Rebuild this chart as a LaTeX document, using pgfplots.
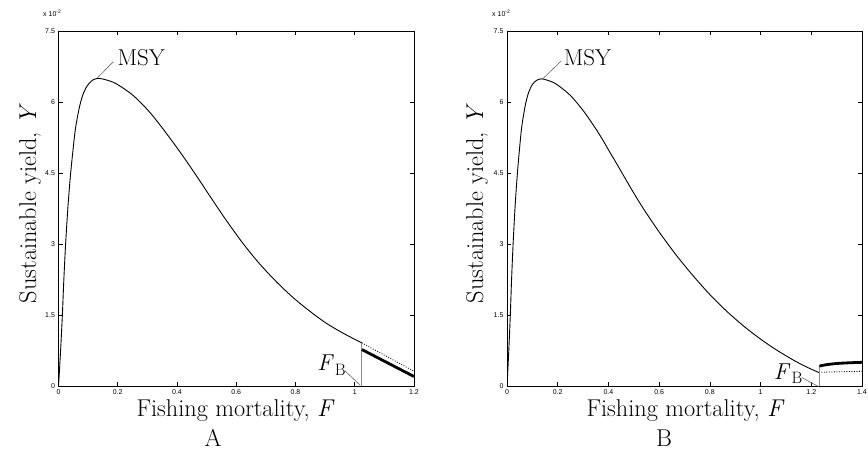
\documentclass[border=0pt]{standalone}
\usepackage{fontspec}
\usepackage{pgfplots}
\pgfplotsset{compat=1.18}
\newfontfamily\tickfont{Liberation Sans}
\newcommand{\bigf}{\fontsize{24.3}{29}\selectfont}
\newcommand{\annf}{\fontsize{23}{27}\selectfont}
\newcommand{\FB}{\textit{F}\kern0.05em\raisebox{-0.2em}{\fontsize{16.5}{18}\selectfont B}}

\pgfplotstableread{
F Y
0 0
0.007 0.75
0.013 1.5
0.018 2.25
0.024 3.0
0.032 3.8
0.041 4.5
0.0535 5.25
0.060 5.55
0.072 5.93
0.085 6.20
0.100 6.37
0.117 6.47
0.136 6.50
0.160 6.47
0.194 6.39
0.250 6.15
0.306 5.80
0.363 5.35
0.419 4.87
0.464 4.46
0.515 3.98
0.568 3.49
0.625 3.00
0.680 2.58
0.737 2.20
0.793 1.87
0.850 1.58
0.905 1.33
0.965 1.11
1.024 0.92
}\curveA

\pgfplotstableread{
F Y
0 0
0.007 0.75
0.013 1.5
0.018 2.25
0.024 3.0
0.032 3.8
0.041 4.5
0.0535 5.25
0.060 5.55
0.072 5.93
0.085 6.20
0.100 6.37
0.117 6.46
0.136 6.49
0.160 6.46
0.194 6.38
0.250 6.14
0.306 5.78
0.363 5.33
0.406 4.94
0.438 4.65
0.490 4.17
0.537 3.76
0.600 3.26
0.669 2.76
0.735 2.33
0.800 1.94
0.866 1.59
0.932 1.28
1.000 1.00
1.063 0.77
1.130 0.555
1.180 0.415
1.232 0.29
}\curveB

\begin{document}
\begin{tikzpicture}[x=1pt,y=1pt]
\path[use as bounding box] (0,0) rectangle (868,454);
\pgfplotsset{
  myax/.style={
    scale only axis, width=355.5pt, height=355.5pt,
    ymin=0, ymax=7.5, xmin=0,
    ytick={0,1.5,3,4.5,6,7.5}, yticklabels={0,1.5,3,4.5,6,7.5},
    tick align=inside, tick pos=both, major tick length=4pt,
    ticklabel style={font=\tickfont\fontsize{7}{8}\selectfont},
    axis line style={line width=0.9pt},
    every tick/.style={black, line width=0.6pt},
    anchor=south west,
  }
}
% ---------- Panel A ----------
\begin{axis}[myax, at={(58.5pt,67.5pt)}, xmax=1.2,
  xtick={0,0.2,0.4,0.6,0.8,1,1.2}, xticklabels={0,0.2,0.4,0.6,0.8,1,1.2}]
\addplot[black, line width=0.9pt, smooth, tension=0.5] table[x=F,y=Y] {\curveA};
\addplot[black!45, line width=0.8pt] coordinates {(1.024,0) (1.024,0.92)};
\addplot[black, line width=0.8pt, dash pattern=on 0.9pt off 1.6pt] coordinates {(1.024,0.92) (1.2,0.32)};
\addplot[black, line width=2.8pt] coordinates {(1.024,0.78) (1.2,0.21)};
\draw[black!60, line width=0.6pt] (axis cs:0.131,6.51) -- (axis cs:0.185,6.85);
\node[anchor=base west, inner sep=0, font=\annf] at (axis cs:0.199,6.78) {MSY};
\draw[black!60, line width=0.6pt] (axis cs:0.967,0.33) -- (axis cs:1.018,0.03);
\node[anchor=base west, inner sep=0, font=\annf] at (axis cs:0.873,0.33) {\FB};
\end{axis}
% ---------- Panel B ----------
\begin{axis}[myax, at={(507pt,67.5pt)}, width=355pt, xmax=1.4,
  xtick={0,0.2,0.4,0.6,0.8,1,1.2,1.4}, xticklabels={0,0.2,0.4,0.6,0.8,1,1.2,1.4}]
\addplot[black, line width=0.9pt, smooth, tension=0.5] table[x=F,y=Y] {\curveB};
\addplot[black!45, line width=0.8pt] coordinates {(1.232,0) (1.232,0.43)};
\addplot[black, line width=0.8pt, dash pattern=on 0.9pt off 1.6pt] coordinates {(1.24,0.30) (1.30,0.31) (1.40,0.32)};
\addplot[black, line width=2.8pt, smooth] coordinates {(1.232,0.43) (1.26,0.46) (1.30,0.485) (1.35,0.50) (1.40,0.51)};
\draw[black!60, line width=0.6pt] (axis cs:0.139,6.48) -- (axis cs:0.212,6.86);
\node[anchor=base west, inner sep=0, font=\annf] at (axis cs:0.223,6.78) {MSY};
\draw[black!60, line width=0.6pt] (axis cs:1.162,0.19) -- (axis cs:1.228,0.0);
\node[anchor=base west, inner sep=0, font=\annf] at (axis cs:1.052,0.15) {\FB};
\end{axis}
% ---------- outer labels ----------
\node[anchor=base, inner sep=0, font=\bigf] at (235.5,37) {Fishing mortality, \textit{F}};
\node[anchor=base, inner sep=0, font=\bigf] at (213,7.3) {A};
\node[anchor=base, inner sep=0, font=\bigf] at (685.5,37) {Fishing mortality, \textit{F}};
\node[anchor=base, inner sep=0, font=\bigf] at (664,7.3) {B};
\node[anchor=base, rotate=90, inner sep=0, font=\bigf] at (36,250.5) {Sustainable yield, \textit{Y}};
\node[anchor=base, rotate=90, inner sep=0, font=\bigf] at (483,250.5) {Sustainable yield, \textit{Y}};
\node[anchor=base west, inner sep=0, font=\tickfont\fontsize{7}{8}\selectfont] at (43,437) {x 10\textsuperscript{-2}};
\node[anchor=base west, inner sep=0, font=\tickfont\fontsize{7}{8}\selectfont] at (492,437) {x 10\textsuperscript{-2}};
\end{tikzpicture}
\end{document}
